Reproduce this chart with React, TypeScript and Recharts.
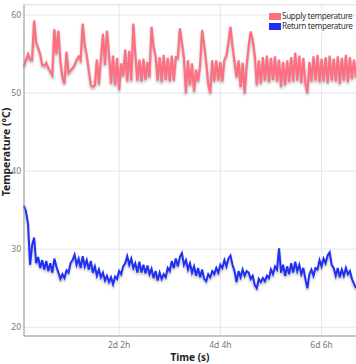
import { LineChart, Line, XAxis, YAxis, CartesianGrid, Legend, ReferenceLine, Label } from 'recharts';

// samples are hourly, first one at 3h (seconds on the x axis)
const START_S = 10800;
const STEP_S = 3600;

const supplyTemp = [
  53.4, 54.3, 55.0, 54.3, 54.2, 59.3, 56.5, 55.8, 55.0, 53.6,
  53.5, 53.9, 53.2, 52.8, 52.3, 58.2, 55.0, 58.0, 54.0, 52.0,
  51.2, 55.3, 52.6, 52.9, 53.2, 53.6, 54.3, 54.7, 54.2, 58.9,
  56.2, 54.8, 53.0, 51.0, 50.8, 51.0, 54.3, 51.1, 54.4, 57.6,
  53.6, 58.0, 55.0, 51.2, 54.8, 51.0, 54.5, 50.4, 53.8, 52.2,
  55.6, 51.5, 55.4, 51.6, 58.9, 55.0, 51.6, 54.3, 51.5, 54.4,
  51.7, 54.0, 52.0, 58.5, 56.0, 54.8, 51.6, 54.6, 51.4, 54.9,
  51.7, 54.5, 51.5, 54.8, 51.6, 54.6, 54.5, 58.3, 56.5, 54.5,
  50.0, 54.2, 51.0, 53.8, 50.2, 53.0, 51.5, 53.5, 58.1, 56.2,
  54.0, 51.2, 50.0, 54.2, 51.5, 54.2, 51.6, 54.0, 51.5, 54.3,
  54.8, 56.5, 58.5, 56.0, 54.0, 52.0, 54.2, 50.8, 53.9, 50.0,
  53.5, 56.0, 57.9, 56.8, 54.8, 51.0, 54.2, 51.2, 54.6, 51.6,
  54.8, 51.4, 54.5, 51.7, 54.7, 51.5, 54.3, 50.8, 54.0, 51.0,
  54.2, 51.4, 54.6, 51.5, 55.2, 51.6, 54.8, 51.3, 54.5, 51.2,
  50.0, 54.0, 51.5, 54.7, 51.6, 54.9, 51.4, 54.4, 51.5, 54.6,
  51.3, 54.8, 51.6, 54.4, 51.5, 54.7, 51.2, 54.5, 51.6, 54.9,
  51.4, 54.6, 51.8, 54.3, 52.0,
];

const returnTemp = [
  35.6, 34.8, 33.2, 28.0, 30.5, 31.5, 28.2, 29.0, 27.6, 28.6,
  27.4, 28.5, 27.2, 28.2, 27.0, 28.8, 27.8, 27.0, 26.2, 26.8,
  26.3, 27.3, 27.0, 28.2, 28.6, 29.3, 28.0, 28.8, 27.6, 29.1,
  27.8, 28.6, 27.4, 28.5, 27.0, 27.8, 26.6, 27.4, 26.4, 27.0,
  26.0, 26.6, 25.8, 26.4, 25.5, 26.5, 26.2, 27.2, 26.8, 27.8,
  28.2, 29.1, 28.0, 28.8, 27.6, 28.2, 27.0, 28.4, 27.0, 28.0,
  26.9, 27.9, 26.8, 27.5, 26.3, 27.2, 26.0, 27.0, 26.2, 26.8,
  26.4, 27.6, 27.2, 28.5, 27.6, 28.8, 27.8, 29.0, 29.5, 28.0,
  28.6, 27.4, 28.2, 27.0, 27.8, 26.6, 27.6, 26.4, 27.4, 26.2,
  25.9, 26.8, 26.4, 27.2, 26.8, 27.6, 27.0, 28.0, 27.6, 28.6,
  27.8, 28.8, 29.2, 28.0, 27.2, 25.8, 27.2, 26.4, 27.4, 26.6,
  27.2, 27.0, 26.2, 26.6, 25.4, 25.0, 26.2, 25.8, 26.3, 25.9,
  26.6, 26.3, 27.4, 26.8, 27.8, 27.4, 30.1, 27.0, 28.0, 26.6,
  27.8, 26.8, 28.2, 27.0, 28.4, 27.2, 28.0, 26.8, 27.6, 26.2,
  25.0, 26.8, 27.4, 26.6, 27.6, 27.4, 28.6, 27.8, 28.8, 28.2,
  29.2, 29.6, 28.0, 27.6, 26.6, 27.6, 26.4, 27.4, 26.6, 27.6,
  26.8, 27.2, 26.2, 25.6, 25.0,
];

const xTicks = [180000, 360000, 540000];
const yTicks = [20, 30, 40, 50, 60];

const SUPPLY = '#ff6f82';
const RETURN = '#1f2ff5';
const FONT = '"Noto Sans", sans-serif';

const data = supplyTemp.map((s, i) => ({ t: START_S + i * STEP_S, supply: s, ret: returnTemp[i] }));

const fmtTime = (s: number) => {
  const d = Math.floor(s / 86400);
  const h = Math.round((s - d * 86400) / 3600);
  return `${d}d ${h}h`;
};

const legendItems = [
  { name: 'Supply temperature', color: SUPPLY },
  { name: 'Return temperature', color: RETURN },
];

const LegendBox = () => (
  <div style={{ background: '#fff', padding: '2px 0 2px 2px', fontFamily: FONT, fontSize: 8.2, letterSpacing: -0.35, color: '#333', lineHeight: '10px', whiteSpace: 'nowrap' }}>
    {legendItems.map((it) => (
      <div key={it.name} style={{ display: 'flex', alignItems: 'center' }}>
        <span style={{ display: 'inline-block', width: 12, height: 7, background: it.color, marginRight: 1 }} />
        {it.name}
      </div>
    ))}
  </div>
);

export default function App() {
  return (
    <div style={{ position: 'absolute', left: 0, top: 0, width: 356, height: 364, overflow: 'hidden', background: '#fff' }}>
      <style>{'.recharts-line path{filter:drop-shadow(0 2px 1px rgba(0,0,0,0.28));}'}</style>
      <LineChart width={360} height={364} data={data} margin={{ top: 4.7, right: 2, bottom: 0, left: 0 }}>
        <CartesianGrid stroke="#e6e6e6" />
        <ReferenceLine y={61.32} stroke="#e6e6e6" />
        <XAxis
          dataKey="t"
          type="number"
          domain={[10800, 604800]}
          ticks={xTicks}
          tickFormatter={fmtTime}
          tickLine={false}
          tickSize={0}
          tickMargin={6}
          height={28}
          stroke="#999"
          tick={{ fill: '#777', fontSize: 8.5, fontFamily: FONT }}
        >
          <Label
            content={() => (
              <text x={190} y={357} textAnchor="middle" dominantBaseline="central" style={{ fontFamily: FONT, fontWeight: 700, fontSize: 10, fill: '#222' }}>
                Time (s)
              </text>
            )}
          />
        </XAxis>
        <YAxis
          type="number"
          domain={[18.88, 61.32]}
          ticks={yTicks}
          allowDataOverflow
          width={24}
          tickLine={false}
          tickSize={0}
          tickMargin={3}
          stroke="#999"
          tick={{ fill: '#777', fontSize: 8.5, fontFamily: FONT }}
        >
          <Label
            content={() => (
              <text x={6} y={152} transform="rotate(-90 6 152)" textAnchor="middle" dominantBaseline="central" style={{ fontFamily: FONT, fontWeight: 700, fontSize: 10.5, fill: '#222' }}>
                Temperature (°C)
              </text>
            )}
          />
        </YAxis>
        <Legend layout="vertical" align="center" verticalAlign="middle" content={<LegendBox />} wrapperStyle={{ top: 9, left: 267, right: 'auto', width: 'auto' }} />
        <Line type="linear" dataKey="supply" name="Supply temperature" stroke={SUPPLY} strokeWidth={2.2} dot={false} isAnimationActive={false} />
        <Line type="linear" dataKey="ret" name="Return temperature" stroke={RETURN} strokeWidth={2} dot={false} isAnimationActive={false} />
      </LineChart>
    </div>
  );
}
